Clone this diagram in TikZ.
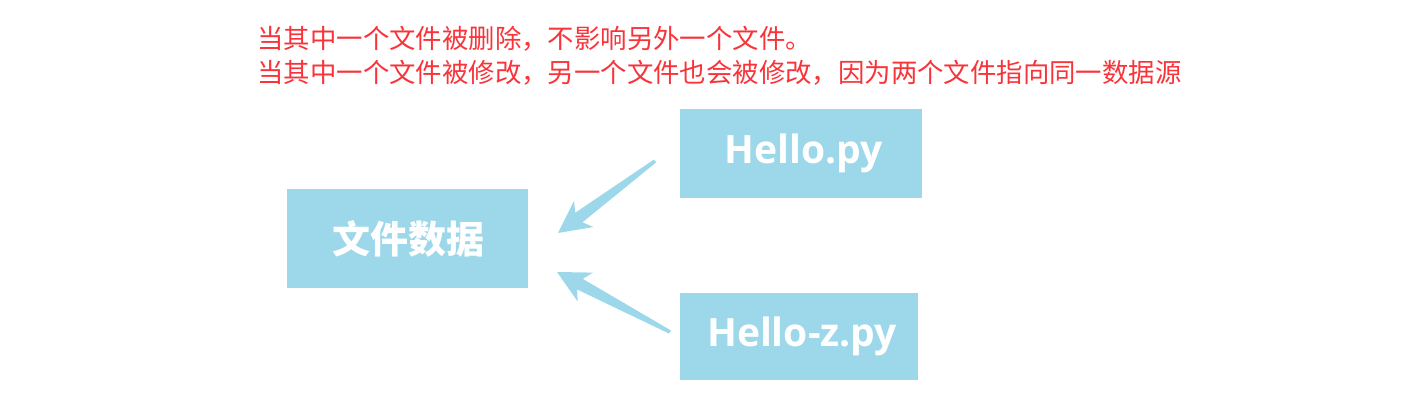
\documentclass[tikz,border=0pt]{standalone}
\usepackage{fontspec}
\setmainfont{Open Sans}
\newfontfamily\cjk{Noto Sans CJK SC}
\usetikzlibrary{calc}
\definecolor{boxblue}{HTML}{9DD8EA}
\definecolor{notered}{HTML}{F8343A}
\tikzset{
  filebox/.style={fill=boxblue, draw=none, inner sep=0pt, text=white,
    font=\fontsize{19.5}{22}\selectfont\bfseries},
  note/.style={anchor=west, inner sep=0pt, text=notered,
    font=\cjk\fontsize{13.2}{16}\selectfont},
  arrowfill/.style={fill=boxblue, draw=none}
}
\newcommand\fatarrow[2]{%
  \fill[arrowfill] (#2)
    -- ($(#2)!18pt!27:(#1)$)
    -- ($($(#2)!13pt!(#1)$)!3pt!90:(#1)$)
    -- ($(#1)!0.9pt!-90:(#2)$)
    -- ($(#1)!0.9pt!90:(#2)$)
    -- ($($(#2)!13pt!(#1)$)!3pt!-90:(#1)$)
    -- ($(#2)!18pt!-27:(#1)$)
    -- cycle;}
\begin{document}
\begin{tikzpicture}[x=0.5pt,y=-0.5pt]
\useasboundingbox (0,0) rectangle (1409,406);
\node[note] (l1) at (257,39) {当其中一个文件被删除，不影响另外一个文件。};
\node[note] (l2) at (257,73) {当其中一个文件被修改，另一个文件也会被修改，因为两个文件指向同一数据源};
\node[filebox, minimum width=120.5pt, minimum height=49.5pt] (data) at (407,238.5) {\cjk\bfseries\fontsize{19}{22}\selectfont\hspace{1pt}文件数据};
\node[filebox, minimum width=121pt, minimum height=44.5pt] (hello) at (801,153.5) {\hspace{3pt}Hello.py};
\node[filebox, minimum width=119pt, minimum height=43.5pt] (helloz) at (799,336.5) {\hspace{3pt}Hello-z.py};
\coordinate (t1) at (655,161);
\coordinate (h1) at (558,233);
\coordinate (t2) at (670,332);
\coordinate (h2) at (557,272);
\fatarrow{t1}{h1}
\fatarrow{t2}{h2}
\end{tikzpicture}
\end{document}
